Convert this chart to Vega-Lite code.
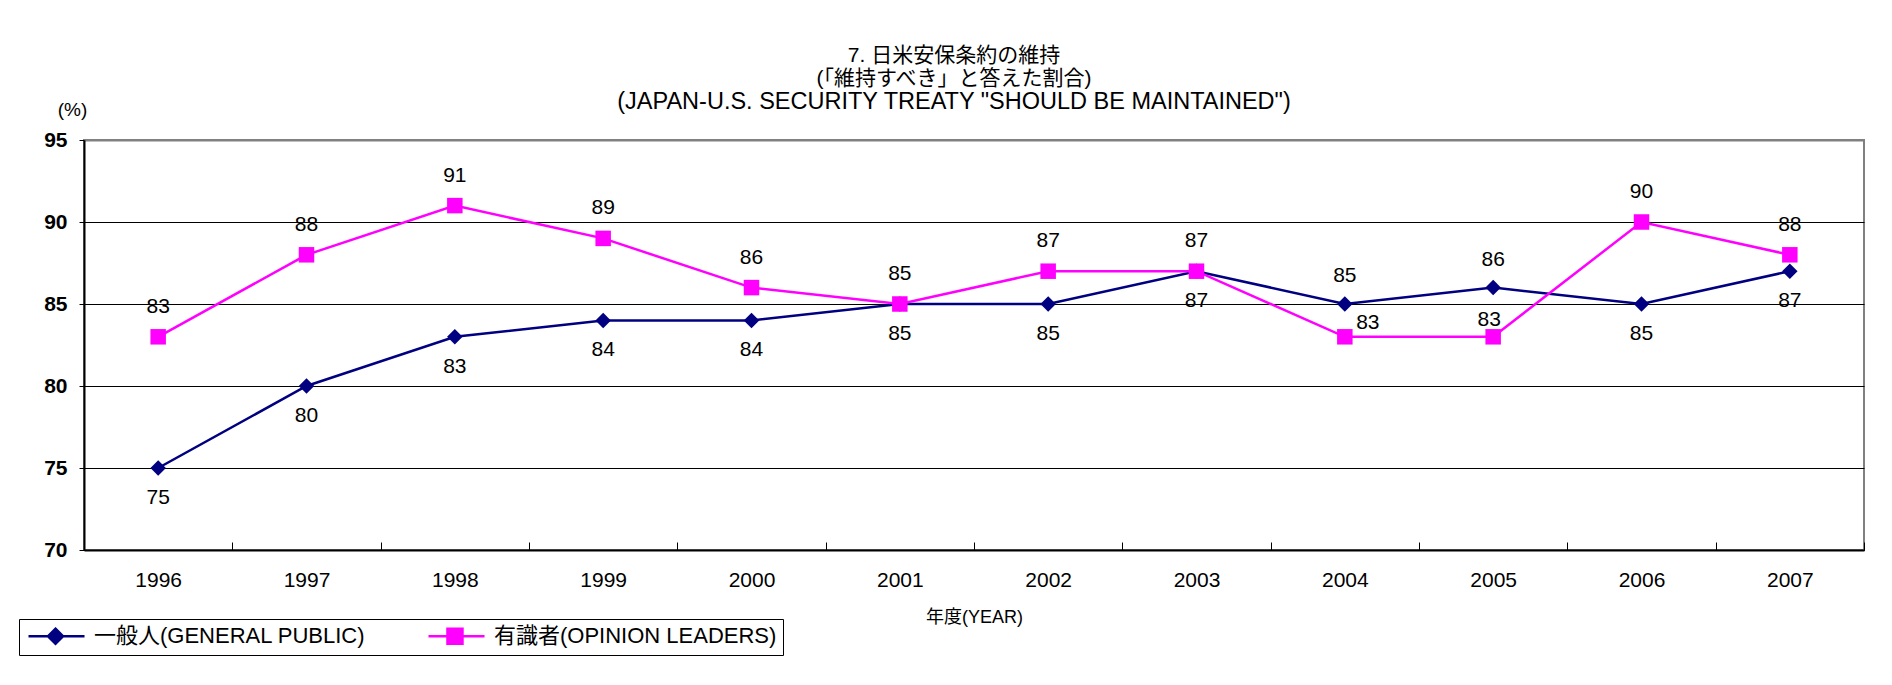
{
  "$schema": "https://vega.github.io/schema/vega-lite/v6.json",
  "width": 1780,
  "height": 410,
  "autosize": {"type": "none"},
  "padding": {"left": 84, "top": 140, "right": 28, "bottom": 135},
  "background": "white",
  "title": {
    "text": ["7. 日米安保条約の維持", "(「維持すべき」と答えた割合)"],
    "subtitle": "(JAPAN-U.S. SECURITY  TREATY \"SHOULD BE MAINTAINED\")",
    "anchor": "middle",
    "frame": "group",
    "dx": -20,
    "offset": -13,
    "font": "Liberation Sans, Noto Sans CJK JP",
    "fontSize": 21,
    "fontWeight": "normal",
    "lineHeight": 22.5,
    "color": "black",
    "subtitleFont": "Liberation Sans",
    "subtitleFontSize": 23.5,
    "subtitleColor": "black",
    "subtitlePadding": 1
  },
  "data": {
    "values": [
      {"year": "1996", "series": "一般人(GENERAL PUBLIC)", "value": 75},
      {"year": "1997", "series": "一般人(GENERAL PUBLIC)", "value": 80},
      {"year": "1998", "series": "一般人(GENERAL PUBLIC)", "value": 83},
      {"year": "1999", "series": "一般人(GENERAL PUBLIC)", "value": 84},
      {"year": "2000", "series": "一般人(GENERAL PUBLIC)", "value": 84},
      {"year": "2001", "series": "一般人(GENERAL PUBLIC)", "value": 85},
      {"year": "2002", "series": "一般人(GENERAL PUBLIC)", "value": 85},
      {"year": "2003", "series": "一般人(GENERAL PUBLIC)", "value": 87},
      {"year": "2004", "series": "一般人(GENERAL PUBLIC)", "value": 85},
      {"year": "2005", "series": "一般人(GENERAL PUBLIC)", "value": 86},
      {"year": "2006", "series": "一般人(GENERAL PUBLIC)", "value": 85},
      {"year": "2007", "series": "一般人(GENERAL PUBLIC)", "value": 87},
      {"year": "1996", "series": "有識者(OPINION LEADERS)", "value": 83},
      {"year": "1997", "series": "有識者(OPINION LEADERS)", "value": 88},
      {"year": "1998", "series": "有識者(OPINION LEADERS)", "value": 91},
      {"year": "1999", "series": "有識者(OPINION LEADERS)", "value": 89},
      {"year": "2000", "series": "有識者(OPINION LEADERS)", "value": 86},
      {"year": "2001", "series": "有識者(OPINION LEADERS)", "value": 85},
      {"year": "2002", "series": "有識者(OPINION LEADERS)", "value": 87},
      {"year": "2003", "series": "有識者(OPINION LEADERS)", "value": 87},
      {"year": "2004", "series": "有識者(OPINION LEADERS)", "value": 83},
      {"year": "2005", "series": "有識者(OPINION LEADERS)", "value": 83},
      {"year": "2006", "series": "有識者(OPINION LEADERS)", "value": 90},
      {"year": "2007", "series": "有識者(OPINION LEADERS)", "value": 88}
    ]
  },
  "encoding": {
    "x": {
      "field": "year",
      "type": "ordinal",
      "scale": {"type": "band", "paddingInner": 0, "paddingOuter": 0},
      "axis": {
        "title": "年度(YEAR)",
        "titleFont": "Liberation Sans, Noto Sans CJK JP",
        "titleFontSize": 18,
        "titleFontWeight": "normal",
        "titleColor": "black",
        "titlePadding": 18,
        "labelAngle": 0,
        "labelFont": "Liberation Sans",
        "labelFontSize": 21,
        "labelColor": "black",
        "labelPadding": 27,
        "tickBand": "extent",
        "tickSize": -8,
        "tickColor": "black",
        "tickWidth": 1,
        "domainColor": "black",
        "domainWidth": 2,
        "grid": false
      }
    },
    "y": {
      "field": "value",
      "type": "quantitative",
      "scale": {"domain": [70, 95], "nice": false, "zero": false},
      "axis": {
        "values": [70, 75, 80, 85, 90, 95],
        "title": "(%)",
        "titleAngle": 0,
        "titleX": -12,
        "titleY": -31,
        "titleAlign": "center",
        "titleBaseline": "middle",
        "titleFont": "Liberation Sans",
        "titleFontSize": 19,
        "titleFontWeight": "normal",
        "titleColor": "black",
        "labelFont": "Liberation Sans",
        "labelFontSize": 21,
        "labelFontWeight": "bold",
        "labelColor": "black",
        "labelPadding": 12,
        "tickSize": 5,
        "tickColor": "black",
        "domainColor": "black",
        "domainWidth": 2,
        "grid": true,
        "gridColor": {"condition": {"test": "datum.value === 95", "value": "#808080"}, "value": "black"},
        "gridWidth": {"condition": {"test": "datum.value === 95", "value": 2}, "value": 1}
      }
    }
  },
  "layer": [
    {
      "mark": {"type": "line", "strokeWidth": 2.5},
      "encoding": {
        "color": {
          "field": "series",
          "type": "nominal",
          "scale": {"domain": ["一般人(GENERAL PUBLIC)", "有識者(OPINION LEADERS)"], "range": ["#000080", "#FF00FF"]},
          "legend": {
            "title": null,
            "orient": "none",
            "legendX": -65,
            "legendY": 479,
            "direction": "horizontal",
            "strokeColor": "black",
            "padding": 6,
            "columnPadding": 57,
            "labelFont": "Liberation Sans, Noto Sans CJK JP",
            "labelFontSize": 22,
            "labelColor": "black",
            "labelOffset": 47,
            "labelLimit": 500,
            "symbolSize": 225,
            "symbolStrokeWidth": 2.5,
            "encode": {
              "symbols": {
                "update": {
                  "shape": {"signal": "datum.value === '一般人(GENERAL PUBLIC)' ? 'M-1,0H6.47M2.6,-1L3.6,0L2.6,1L1.6,0Z' : 'M-1,0H6.47M1.53,-1H3.53V1H1.53Z'"},
                  "fill": {"signal": "datum.value === '一般人(GENERAL PUBLIC)' ? '#000080' : '#FF00FF'"},
                  "stroke": {"signal": "datum.value === '一般人(GENERAL PUBLIC)' ? '#000080' : '#FF00FF'"},
                  "strokeWidth": {"value": 2.5},
                  "opacity": {"value": 1}
                }
              }
            }
          }
        }
      }
    },
    {
      "transform": [{"filter": "datum.series === '一般人(GENERAL PUBLIC)'"}],
      "mark": {"type": "point", "shape": "diamond", "filled": true, "opacity": 1, "size": 240},
      "encoding": {"color": {"field": "series", "type": "nominal"}}
    },
    {
      "transform": [{"filter": "datum.series === '有識者(OPINION LEADERS)'"}],
      "mark": {"type": "point", "shape": "square", "filled": true, "opacity": 1, "size": 240},
      "encoding": {"color": {"field": "series", "type": "nominal"}}
    },
    {
      "transform": [
        {"filter": "datum.series === '一般人(GENERAL PUBLIC)' && datum.year !== '2004' && datum.year !== '2005'"}
      ],
      "mark": {"type": "text", "dy": 30, "font": "Liberation Sans", "fontSize": 21, "color": "black", "baseline": "middle"},
      "encoding": {"text": {"field": "value", "type": "quantitative"}}
    },
    {
      "transform": [
        {"filter": "datum.series === '一般人(GENERAL PUBLIC)' && (datum.year === '2004' || datum.year === '2005')"}
      ],
      "mark": {"type": "text", "dy": -28, "font": "Liberation Sans", "fontSize": 21, "color": "black", "baseline": "middle"},
      "encoding": {"text": {"field": "value", "type": "quantitative"}}
    },
    {
      "transform": [
        {"filter": "datum.series === '有識者(OPINION LEADERS)' && datum.year !== '2004' && datum.year !== '2005'"}
      ],
      "mark": {"type": "text", "dy": -30, "font": "Liberation Sans", "fontSize": 21, "color": "black", "baseline": "middle"},
      "encoding": {"text": {"field": "value", "type": "quantitative"}}
    },
    {
      "transform": [
        {"filter": "datum.series === '有識者(OPINION LEADERS)' && datum.year === '2004'"}
      ],
      "mark": {"type": "text", "dx": 23, "dy": -14, "font": "Liberation Sans", "fontSize": 21, "color": "black", "baseline": "middle"},
      "encoding": {"text": {"field": "value", "type": "quantitative"}}
    },
    {
      "transform": [
        {"filter": "datum.series === '有識者(OPINION LEADERS)' && datum.year === '2005'"}
      ],
      "mark": {"type": "text", "dx": -4, "dy": -17, "font": "Liberation Sans", "fontSize": 21, "color": "black", "baseline": "middle"},
      "encoding": {"text": {"field": "value", "type": "quantitative"}}
    }
  ],
  "config": {
    "view": {"stroke": "#808080", "strokeWidth": 2},
    "font": "Liberation Sans, Noto Sans CJK JP"
  }
}
